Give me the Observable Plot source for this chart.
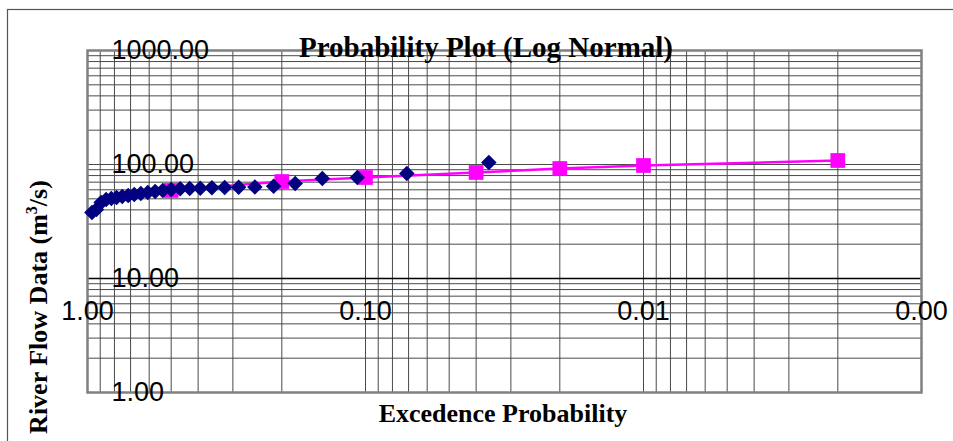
<!DOCTYPE html>
<html><head><meta charset="utf-8">
<script src="https://cdn.jsdelivr.net/npm/d3@7"></script>
<script src="https://cdn.jsdelivr.net/npm/@observablehq/plot@0.6"></script>
<style>body{margin:0;background:#fff} svg{display:block}</style>
</head><body><div id="chart"></div>
<script>
// Observed flows (diamonds): exceedance probability and flow (m3/s)
const obsProb = [0.036, 0.071, 0.107, 0.143, 0.179, 0.214, 0.25, 0.286, 0.321, 0.357, 0.393, 0.429, 0.464, 0.5, 0.536, 0.571, 0.607, 0.643, 0.679, 0.714, 0.75, 0.786, 0.821, 0.857, 0.893, 0.929, 0.964];
const obsFlow = [104.2, 83.4, 76.9, 75.4, 68.1, 64.5, 63.6, 63.1, 62.8, 62.5, 62.0, 61.6, 61.2, 60.4, 59.2, 58.0, 56.8, 55.7, 54.6, 53.5, 52.4, 51.4, 50.3, 49.3, 46.4, 40.3, 37.9];
// Fitted log-normal (squares + line)
const fitProb = [0.5, 0.2, 0.1, 0.04, 0.02, 0.01, 0.002];
const fitFlow = [59.2, 70.9, 76.9, 85.1, 92.2, 98.0, 108.4];
// Tick labels
const xTicks = [1, 0.1, 0.01, 0.001];
const yTicks = [1, 10, 100, 1000];

const obs = obsProb.map((p, i) => ({p, q: obsFlow[i]}));
const fit = fitProb.map((p, i) => ({p, q: fitFlow[i]}));
const xGrid = d3.scaleLog().domain([0.001, 1]).ticks();
const yGrid = d3.scaleLog().domain([1, 1000]).ticks();

const chart = Plot.plot({
  width: 953, height: 441,
  marginLeft: 87, marginRight: 32, marginTop: 50, marginBottom: 49,
  style: {background: "white", fontFamily: "'Liberation Sans', Arial, sans-serif", overflow: "visible", color: "black"},
  x: {type: "log", domain: [1, 0.001], axis: null},
  y: {type: "log", domain: [1, 1000], axis: null},
  marks: [
    Plot.gridX(xGrid, {stroke: "#4a4a4a", strokeOpacity: 1, strokeWidth: 1}),
    Plot.gridY(yGrid, {stroke: "#4a4a4a", strokeOpacity: 1, strokeWidth: 1}),
    Plot.ruleY([10], {stroke: "black", strokeWidth: 1.3}),
    Plot.frame({stroke: "#808080", strokeWidth: 2.5}),
    Plot.axisY(yTicks, {anchor: "left", tickSize: 0, tickPadding: 0, textAnchor: "start", dx: 24, fontSize: 27, tickFormat: d => d.toFixed(2), fill: "black", label: null}),
    Plot.axisX(xTicks, {anchor: "bottom", tickSize: 0, tickPadding: 0, dy: -92, fontSize: 27, tickFormat: d => d.toFixed(2), fill: "black", label: null}),
    Plot.line(fit, {x: "p", y: "q", stroke: "#FF00FF", strokeWidth: 2.5}),
    Plot.dot(fit, {x: "p", y: "q", symbol: "square", r: 8.3, fill: "#FF00FF"}),
    Plot.dot(obs, {x: "p", y: "q", symbol: "diamond2", r: 7, fill: "#000080"})
  ]
});

const svg = d3.select(chart);
svg.append("rect").attr("x", 7.5).attr("y", 9.5).attr("width", 980).attr("height", 480)
  .attr("fill", "none").attr("stroke", "#555").attr("stroke-width", 1.2);
const serif = "'Liberation Serif', 'Times New Roman', serif";
svg.append("text").attr("x", 486).attr("y", 57).attr("text-anchor", "middle")
  .attr("font-family", serif).attr("font-weight", "bold").attr("font-size", 29).attr("fill", "black")
  .text("Probability Plot (Log Normal)");
svg.append("text").attr("x", 503).attr("y", 422).attr("text-anchor", "middle")
  .attr("font-family", serif).attr("font-weight", "bold").attr("font-size", 26).attr("fill", "black")
  .text("Excedence Probability");
const yl = svg.append("text").attr("transform", "translate(47,307) rotate(-90)").attr("text-anchor", "middle")
  .attr("font-family", serif).attr("font-weight", "bold").attr("font-size", 26).attr("fill", "black");
yl.append("tspan").text("River Flow Data (m");
yl.append("tspan").attr("font-size", 16).attr("dy", -10).text("3");
yl.append("tspan").attr("dy", 10).text("/s)");

document.getElementById("chart").appendChild(chart);
</script>
</body></html>
